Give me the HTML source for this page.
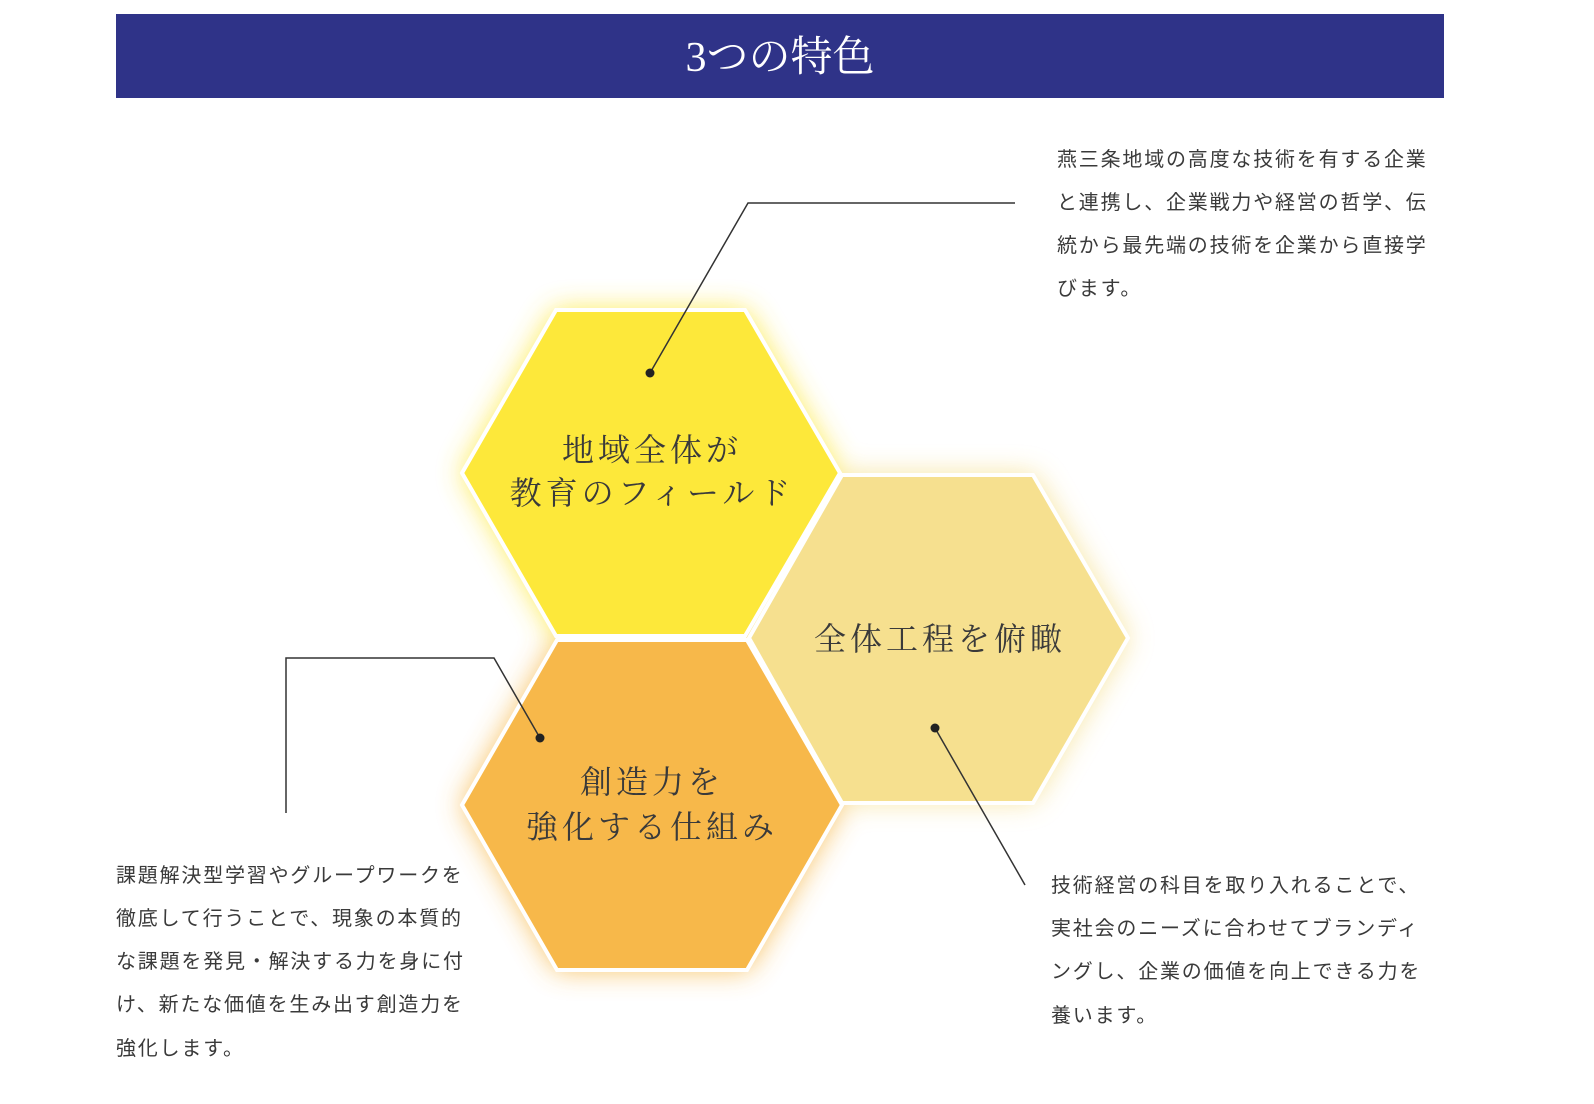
<!DOCTYPE html>
<html><head><meta charset="utf-8"><style>
html,body{margin:0;padding:0;background:#fff;width:1594px;height:1104px;overflow:hidden}
svg{display:block}
.p{font-family:"Liberation Sans","Noto Sans CJK JP",sans-serif;font-size:20px;letter-spacing:1.8px;fill:#3a3a3a}
.h{font-family:"Liberation Serif","Noto Serif CJK SC",serif;font-size:32px;letter-spacing:4px;fill:#3a3a3a}
</style></head><body>
<svg width="1594" height="1104" viewBox="0 0 1594 1104" xmlns="http://www.w3.org/2000/svg">
<defs>
<filter id="g" x="-30%" y="-30%" width="160%" height="160%"><feGaussianBlur stdDeviation="14"/></filter>
</defs>
<rect x="116" y="14" width="1328" height="84" fill="#2f3388"/>
<text x="780" y="71" text-anchor="middle" font-family="Liberation Serif,'Noto Serif CJK SC',serif" font-size="42" fill="#fff">3つの特色</text>

<g filter="url(#g)" opacity="0.9">
<polygon points="556,310 745,310 840,473 745,636 556,636 462,473" fill="#fde83a"/>
<polygon points="842,475 1033,475 1128,638 1033,801 842,801 747,638" fill="#f6e08f"/>
<polygon points="557,640 747,640 842,805 747,970 557,970 462,805" fill="#f7b84a"/>
</g>
<polygon points="556,310 745,310 840,473 745,636 556,636 462,473" fill="#fde83a" stroke="#fff" stroke-width="4"/>
<polygon points="842,475 1033,475 1128,638 1033,803 842,803 749,638" fill="#f6e08f" stroke="#fff" stroke-width="4"/>
<polygon points="557,640 747,640 842,805 747,970 557,970 462,805" fill="#f7b84a" stroke="#fff" stroke-width="4"/>

<text class="h" x="652" y="461" text-anchor="middle">地域全体が</text>
<text class="h" x="652" y="504" text-anchor="middle">教育のフィールド</text>
<text class="h" x="940" y="650" text-anchor="middle">全体工程を俯瞰</text>
<text class="h" x="652" y="793" text-anchor="middle">創造力を</text>
<text class="h" x="652" y="838" text-anchor="middle">強化する仕組み</text>

<g stroke="#333" stroke-width="1.5" fill="none">
<polyline points="650,373 748,203 1015,203"/>
<polyline points="540,738 494,658 286,658 286,813"/>
<polyline points="935,728 1025,885"/>
</g>
<circle cx="650" cy="373" r="4.5" fill="#222"/>
<circle cx="540" cy="738" r="4.5" fill="#222"/>
<circle cx="935" cy="728" r="4.5" fill="#222"/>

<g class="p">
<text x="1057" y="166">燕三条地域の高度な技術を有する企業</text>
<text x="1057" y="209">と連携し、企業戦力や経営の哲学、伝</text>
<text x="1057" y="252">統から最先端の技術を企業から直接学</text>
<text x="1057" y="295">びます。</text>
<text x="116" y="882">課題解決型学習やグループワークを</text>
<text x="116" y="925">徹底して行うことで、現象の本質的</text>
<text x="116" y="968">な課題を発見・解決する力を身に付</text>
<text x="116" y="1011">け、新たな価値を生み出す創造力を</text>
<text x="116" y="1055">強化します。</text>
<text x="1051" y="892">技術経営の科目を取り入れることで、</text>
<text x="1051" y="935">実社会のニーズに合わせてブランディ</text>
<text x="1051" y="978">ングし、企業の価値を向上できる力を</text>
<text x="1051" y="1022">養います。</text>
</g>
</svg>
</body></html>
